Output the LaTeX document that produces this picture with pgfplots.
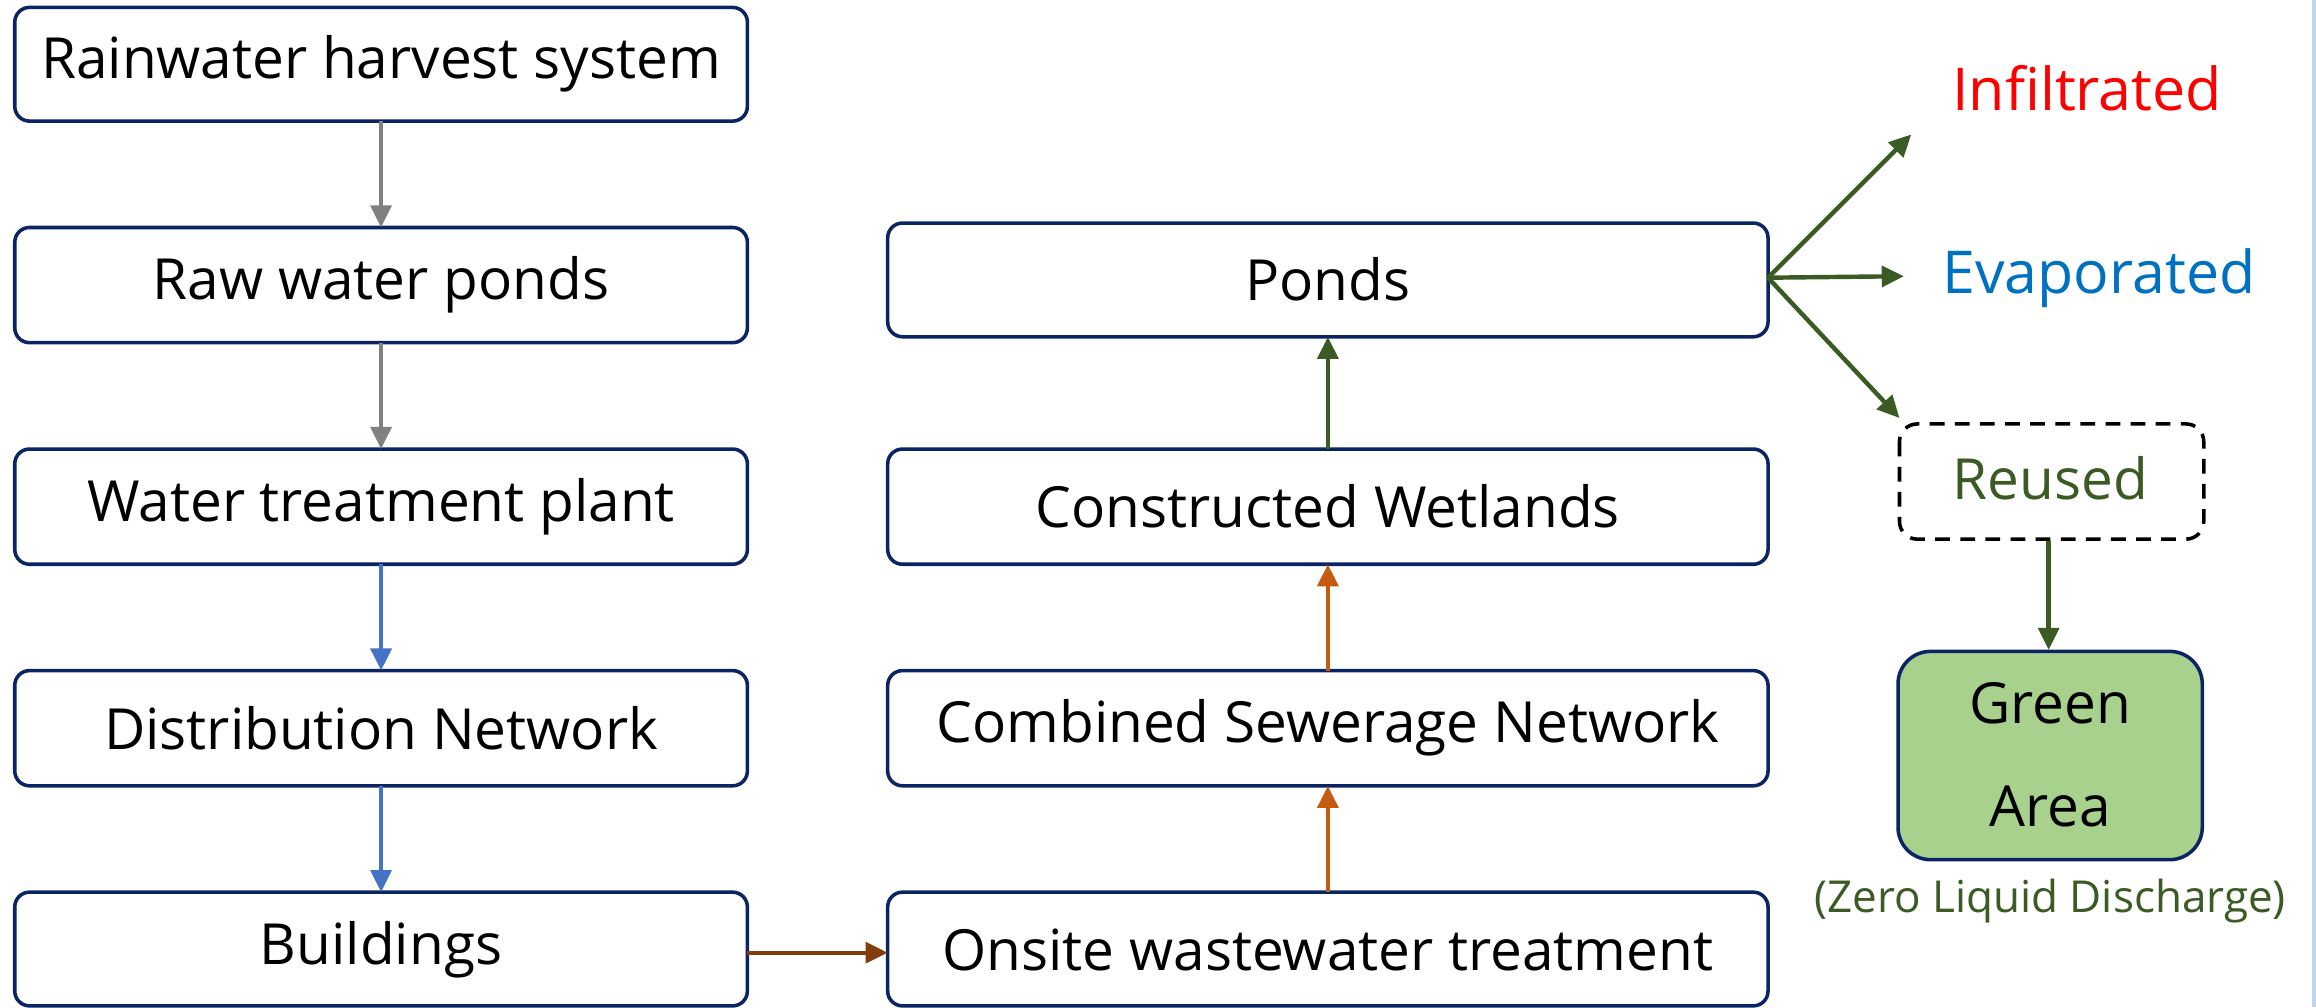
\documentclass[border=0pt]{standalone}
\usepackage{pgfplots}
\pgfplotsset{compat=1.18}
\usepackage{fontspec}
\setmainfont{Open Sans}
\usetikzlibrary{arrows.meta}
\definecolor{navy}{HTML}{0B2463}
\definecolor{arrgray}{HTML}{808080}
\definecolor{arrblue}{HTML}{4472C4}
\definecolor{arrbrown}{HTML}{843C0C}
\definecolor{arrorange}{HTML}{C55A11}
\definecolor{dgreen}{HTML}{3B5A24}
\definecolor{lgreen}{HTML}{A9D18E}
\definecolor{evblue}{HTML}{0070C0}
\definecolor{strip}{HTML}{BDD7EE}
\begin{document}
\begin{tikzpicture}
\useasboundingbox (0,0) rectangle (784pt,341pt);
\begin{axis}[hide axis, scale only axis, width=784pt, height=341pt,
  xmin=0, xmax=1568, ymin=0, ymax=682, y dir=reverse, clip=false,
  anchor=south west, at={(0,0)}]
\tikzset{box/.style={draw=navy, line width=1.2pt, rounded corners=5pt, fill=white},
  txt/.style={font=\fontsize{19.2}{23}\selectfont, text=black, inner sep=0pt},
  arr/.style={line width=1.5pt, -{Triangle[length=7.5pt,width=7pt]}}}
% right strip
\fill[strip] (axis cs:1565,0) rectangle (axis cs:1568,682);
% left column
\draw[box] (axis cs:10,5) rectangle (axis cs:506,82);
\draw[box] (axis cs:10,154) rectangle (axis cs:506,232);
\draw[box] (axis cs:10,304) rectangle (axis cs:506,382);
\draw[box] (axis cs:10,454) rectangle (axis cs:506,532);
\draw[box] (axis cs:10,604) rectangle (axis cs:506,681);
\node[txt] at (axis cs:258,43) {Rainwater harvest system};
\node[txt] at (axis cs:258,193) {Raw water ponds};
\node[txt] at (axis cs:258,343) {Water treatment plant};
\node[txt] at (axis cs:258,493) {Distribution Network};
\node[txt] at (axis cs:258,643) {Buildings};
% middle column
\draw[box] (axis cs:601,151) rectangle (axis cs:1197,228);
\draw[box] (axis cs:601,304) rectangle (axis cs:1197,382);
\draw[box] (axis cs:601,454) rectangle (axis cs:1197,532);
\draw[box] (axis cs:601,604) rectangle (axis cs:1197,681);
\node[txt] at (axis cs:899,189) {Ponds};
\node[txt] at (axis cs:899,343) {Constructed Wetlands};
\node[txt] at (axis cs:899,493) {Combined Sewerage Network};
\node[txt] at (axis cs:899,643) {Onsite wastewater treatment};
% right
\draw[black, line width=1.2pt, dash pattern=on 5pt off 3.5pt, rounded corners=6pt] (axis cs:1286,287) rectangle (axis cs:1492,365);
\node[txt, text=dgreen] at (axis cs:1388,324) {Reused};
\draw[draw=navy, line width=1.2pt, fill=lgreen, rounded corners=11pt] (axis cs:1285,441) rectangle (axis cs:1491,582);
\node[txt] at (axis cs:1388,476) {Green};
\node[txt] at (axis cs:1388,546) {Area};
\node[font=\fontsize{14.9}{18}\selectfont, text=dgreen, inner sep=0pt] at (axis cs:1388,610) {(Zero Liquid Discharge)};
\node[font=\fontsize{20}{24}\selectfont, text=red, inner sep=0pt] at (axis cs:1413,60) {Infiltrated};
\node[font=\fontsize{20}{24}\selectfont, text=evblue, inner sep=0pt] at (axis cs:1421,188) {Evaporated};
% arrows
\addplot[arr, arrgray] coordinates {(258,82) (258,154)};
\addplot[arr, arrgray] coordinates {(258,232) (258,304)};
\addplot[arr, arrblue] coordinates {(258,382) (258,454)};
\addplot[arr, arrblue] coordinates {(258,532) (258,604)};
\addplot[arr, arrbrown] coordinates {(506,645) (601,645)};
\addplot[arr, arrorange] coordinates {(899,604) (899,532)};
\addplot[arr, arrorange] coordinates {(899,454) (899,382)};
\addplot[arr, dgreen] coordinates {(899,304) (899,228)};
\addplot[arr, dgreen] coordinates {(1197,188) (1294,91)};
\addplot[arr, dgreen] coordinates {(1197,188) (1289,187)};
\addplot[arr, dgreen] coordinates {(1197,188) (1286,283)};
\addplot[arr, dgreen] coordinates {(1387,366) (1387,440)};
\end{axis}
\end{tikzpicture}
\end{document}
